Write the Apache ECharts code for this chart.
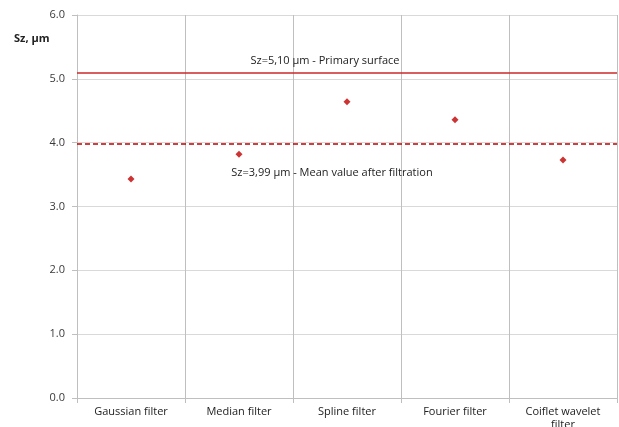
<!DOCTYPE html>
<html>
<head>
<meta charset="utf-8">
<script src="https://cdn.jsdelivr.net/npm/echarts@6/dist/echarts.min.js"></script>
<style>
  html, body { margin: 0; padding: 0; background: #fff; }
  #chart { width: 619px; height: 427px; }
</style>
</head>
<body>
<div id="chart"></div>
<script>
// Sz roughness parameter for each filtration method
const filters = ['Gaussian filter', 'Median filter', 'Spline filter', 'Fourier filter', 'Coiflet wavelet\nfilter'];
const szValues = [3.43, 3.82, 4.64, 4.36, 3.73];

// Reference levels: primary surface and mean after filtration
const primarySz = 5.10;
const meanSz = 3.99;

const yTicks = [0, 1, 2, 3, 4, 5, 6];

const fmt = v => v.toFixed(2).replace('.', ',');
const font = '"Open Sans", "Liberation Sans", sans-serif';

const chart = echarts.init(document.getElementById('chart'), null, { renderer: 'canvas' });

chart.setOption({
  animation: false,
  grid: { left: 77, right: 2, top: 15, bottom: 29, containLabel: false, outerBoundsMode: 'none' },
  graphic: [{
    type: 'text',
    left: 14,
    top: 33,
    style: { text: 'Sz, \u03bcm', fontFamily: font, fontWeight: 'bold', fontSize: 11, fill: '#222' }
  }],
  xAxis: {
    type: 'category',
    data: filters,
    boundaryGap: true,
    axisLine: { show: true, lineStyle: { color: '#bfbfbf', width: 1 } },
    axisTick: { show: true, alignWithLabel: false, length: 5, lineStyle: { color: '#bfbfbf' } },
    splitLine: { show: true, lineStyle: { color: '#bfbfbf', width: 1 } },
    axisLabel: { color: '#222', fontFamily: font, fontSize: 11, margin: 7, lineHeight: 13, interval: 0 }
  },
  yAxis: {
    type: 'value',
    min: yTicks[0],
    max: yTicks[yTicks.length - 1],
    interval: 1,
    axisLine: { show: true, lineStyle: { color: '#bfbfbf' } },
    axisTick: { show: true, length: 5, lineStyle: { color: '#bfbfbf' } },
    splitLine: { show: true, lineStyle: { color: '#d9d9d9', width: 1 } },
    axisLabel: { color: '#3a3a3a', fontFamily: font, fontSize: 11, margin: 12, formatter: v => v.toFixed(1) }
  },
  series: [{
    type: 'scatter',
    data: szValues,
    symbol: 'diamond',
    symbolSize: 7,
    itemStyle: { color: '#c00000' },
    markLine: {
      silent: true,
      symbol: ['none', 'none'],
      data: [
        {
          yAxis: primarySz,
          lineStyle: { color: '#cc2a2a', width: 1.5, type: 'solid' },
          label: {
            show: true, position: 'middle', distance: 6, offset: [-22, 0],
            formatter: () => 'Sz=' + fmt(primarySz) + ' \u03bcm - Primary surface',
            color: '#222', fontFamily: font, fontSize: 11
          }
        },
        {
          yAxis: meanSz,
          lineStyle: { color: '#c00000', width: 1.5, type: [5, 3] },
          label: {
            show: true, position: 'insideMiddleBottom', distance: 0, offset: [-15, 24],
            formatter: () => 'Sz=' + fmt(meanSz) + ' \u03bcm - Mean value after filtration',
            color: '#222', fontFamily: font, fontSize: 11
          }
        }
      ]
    }
  }]
});
</script>
</body>
</html>
